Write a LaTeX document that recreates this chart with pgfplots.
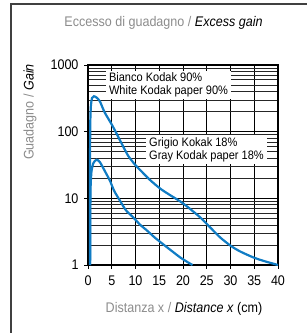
\documentclass[border=0pt]{standalone}
\usepackage{fontspec}
\setmainfont{Liberation Sans}[FakeStretch=0.9]
\usepackage{pgfplots}
\pgfplotsset{compat=1.18}
\definecolor{curve}{RGB}{16,124,196}
\definecolor{lab}{RGB}{140,140,140}
\begin{document}
\begin{tikzpicture}[x=1bp,y=1bp]
\useasboundingbox (0,0) rectangle (307,333);
\draw[line width=1.3bp, black!75] (11,-2) -- (11,329) -- (309,329);
\node[font=\fontsize{14}{16}\selectfont] at (163.5,310) {\textcolor{lab}{Eccesso di guadagno /} \textit{Excess gain}};
\node[font=\fontsize{14}{16}\selectfont, rotate=90] at (30,221) {\textcolor{lab}{Guadagno /} \textit{Gain}};
\node[font=\fontsize{14}{16}\selectfont] at (184,24) {\textcolor{lab}{Distanza x /} \textit{Distance x} (cm)};
\begin{axis}[at={(88bp,68bp)}, anchor=south west, scale only axis,
 width=190bp, height=200bp,
 ymode=log, xmin=0, xmax=40, ymin=1, ymax=1000,
 xtick={0,5,...,40}, xticklabels={0,5,10,15,20,25,30,35,40},
 ytick={1,10,100,1000}, yticklabels={1,10,100,1000},
 xtick pos=left, ytick pos=left, tick align=outside,
 major tick length=4bp, minor tick length=0pt,
 xmajorgrids, ymajorgrids, yminorgrids,
 major grid style={black, line width=0.75bp},
 minor grid style={black!85, line width=0.6bp},
 axis line style={line width=1.4bp},
 tick style={black, line width=0.8bp},
 ticklabel style={font=\fontsize{14}{16}\selectfont},
 xticklabel style={yshift=-3bp},
 yticklabel style={xshift=-2bp},
]
\addplot[curve, line width=2.2bp, smooth, tension=0.4] coordinates {
(0.4,1) (0.42,20) (0.47,120) (0.6,240) (0.85,320) (1.25,340) (1.8,325) (2.5,285) (3.5,195) (5,128) (6,94) (7.4,60) (8.5,43) (9.9,32) (11,26.5) (13,19) (15.2,14) (17,11.5) (19.4,9) (21,7.4) (23.6,5.2) (25.5,3.8) (27.8,2.6) (30,1.95) (32,1.6) (34.8,1.3) (37,1.15) (40,1)
};
\addplot[curve, line width=2.2bp, smooth, tension=0.4] coordinates {
(0.45,1) (0.48,5) (0.55,15) (0.75,26) (1.15,34) (1.8,38) (2.5,35) (3.5,26) (4.6,18.5) (5.5,13) (6.7,9.3) (8,6.6) (9.5,5.2) (11,4) (12.4,3.3) (14,2.6) (16,2) (18,1.55) (19.4,1.3) (21,1.1) (22,1)
};
\end{axis}
\node[fill=white, inner xsep=3bp, inner ysep=2bp, align=left, font=\fontsize{12.3}{13}\selectfont] at (168.5,248) {Bianco Kodak 90\%\\White Kodak paper 90\%};
\node[fill=white, inner xsep=3bp, inner ysep=2bp, align=left, font=\fontsize{12.3}{13}\selectfont] at (206.5,183.5) {Grigio Kokak 18\%\\Gray Kodak paper 18\%};
\end{tikzpicture}
\end{document}
